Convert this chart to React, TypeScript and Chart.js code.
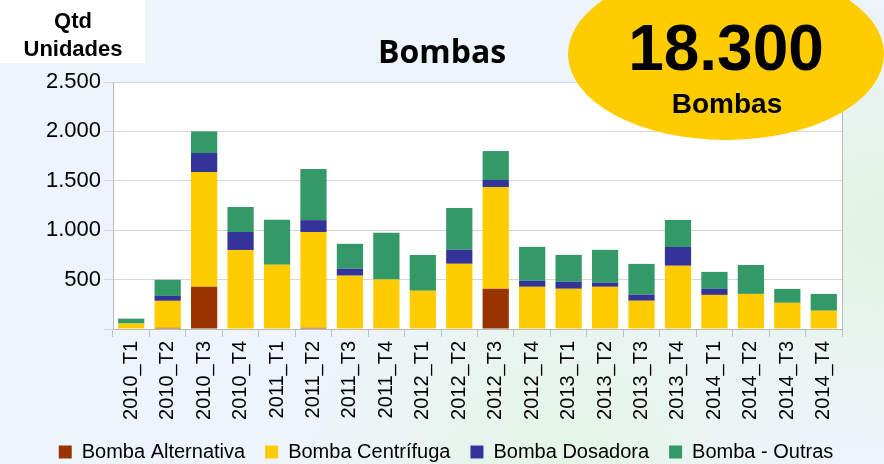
import React, { useEffect, useRef } from 'react';
import { Chart, registerables } from 'chart.js';
Chart.register(...registerables);

const categories = [
  '2010_T1', '2010_T2', '2010_T3', '2010_T4',
  '2011_T1', '2011_T2', '2011_T3', '2011_T4',
  '2012_T1', '2012_T2', '2012_T3', '2012_T4',
  '2013_T1', '2013_T2', '2013_T3', '2013_T4',
  '2014_T1', '2014_T2', '2014_T3', '2014_T4',
];
const alternativa = [0, 12, 428, 0, 0, 12, 0, 0, 0, 0, 407, 0, 0, 0, 0, 0, 0, 0, 0, 0];
const centrifuga = [55, 273, 1161, 800, 650, 970, 540, 500, 388, 660, 1030, 427, 407, 427, 286, 640, 345, 355, 265, 185];
const dosadora = [0, 50, 192, 182, 0, 120, 70, 0, 0, 142, 71, 61, 71, 41, 61, 190, 61, 0, 0, 0];
const outras = [50, 163, 219, 253, 455, 517, 252, 475, 362, 423, 293, 343, 272, 333, 312, 273, 172, 293, 141, 170];
const seriesNames = ['Bomba Alternativa', 'Bomba Centrífuga', 'Bomba Dosadora', 'Bomba - Outras'];
const yMax = 2500;
const yStep = 500;
const chartTitle = 'Bombas';
const axisTitle = ['Qtd', 'Unidades'];
const badgeNumber = '18.300';
const badgeLabel = 'Bombas';

const FONT = "'Liberation Sans', Arial, sans-serif";

const fmt = (v: number) => String(v).replace(/\B(?=(\d{3})+(?!\d))/g, '.');

const decorPlugin = {
  id: 'decor',
  afterLayout(chart: any) {
    const lg = chart.legend;
    if (lg) {
      lg.left += 25;
      lg.right += 25;
    }
  },
  beforeDraw(chart: any) {
    const { ctx, chartArea: a, width, height } = chart;
    ctx.save();
    ctx.fillStyle = '#eef4fb';
    ctx.fillRect(0, 0, width, height);
    const g1 = ctx.createRadialGradient(884, 230, 10, 884, 230, 230);
    g1.addColorStop(0, 'rgba(226,244,228,1)');
    g1.addColorStop(1, 'rgba(226,244,228,0)');
    ctx.fillStyle = g1;
    ctx.fillRect(0, 0, width, height);
    const g2 = ctx.createRadialGradient(560, 470, 10, 560, 470, 260);
    g2.addColorStop(0, 'rgba(228,245,230,1)');
    g2.addColorStop(1, 'rgba(228,245,230,0)');
    ctx.fillStyle = g2;
    ctx.fillRect(0, 0, width, height);
    ctx.fillStyle = '#ffffff';
    ctx.fillRect(a.left, a.top, a.right - a.left, a.bottom - a.top);
    ctx.restore();
  },
  afterDraw(chart: any) {
    const { ctx, chartArea: a } = chart;
    ctx.save();
    ctx.strokeStyle = '#b8b8b8';
    ctx.lineWidth = 1;
    ctx.beginPath();
    ctx.moveTo(Math.round(a.right) + 0.5, a.top);
    ctx.lineTo(Math.round(a.right) + 0.5, a.bottom);
    ctx.stroke();

    // axis title box
    ctx.fillStyle = '#ffffff';
    ctx.fillRect(0, 0, 145, 63);
    ctx.fillStyle = '#000';
    ctx.textAlign = 'center';
    ctx.textBaseline = 'alphabetic';
    ctx.font = `bold 22px ${FONT}`;
    ctx.fillText(axisTitle[0], 73, 28);
    ctx.fillText(axisTitle[1], 73, 56);

    // chart title
    ctx.font = `bold 32px 'Open Sans', ${FONT}`;
    ctx.fillText(chartTitle, 442, 63);

    // badge
    ctx.fillStyle = '#ffcc00';
    ctx.beginPath();
    ctx.ellipse(726, 54, 158, 86, 0, 0, Math.PI * 2);
    ctx.fill();
    ctx.fillStyle = '#000';
    ctx.font = `bold 64px ${FONT}`;
    ctx.fillText(badgeNumber, 726, 70);
    ctx.font = `bold 28px ${FONT}`;
    ctx.fillText(badgeLabel, 727, 113);
    ctx.restore();
  },
};

export default function App() {
  const ref = useRef<HTMLCanvasElement>(null);
  useEffect(() => {
    document.body.style.margin = '0';
    const colors = ['#993300', '#ffcc00', '#333399', '#339966'];
    const values = [alternativa, centrifuga, dosadora, outras];
    const chart = new Chart(ref.current as HTMLCanvasElement, {
      type: 'bar',
      data: {
        labels: categories,
        datasets: seriesNames.map((name, i) => ({
          label: name,
          data: values[i],
          backgroundColor: colors[i],
          borderWidth: 0,
        })),
      },
      options: {
        responsive: false,
        animation: false,
        devicePixelRatio: 1,
        color: '#000',
        layout: { padding: { top: 82, left: 0, right: 42, bottom: -8 } },
        plugins: {
          title: { display: false },
          tooltip: { enabled: false },
          legend: {
            position: 'bottom',
            labels: {
              boxWidth: 13,
              boxHeight: 13,
              padding: 20,
              color: '#000',
              font: { family: FONT, size: 20 },
            },
          },
        },
        scales: {
          x: {
            stacked: true,
            afterFit: (s: any) => { s.height = 93; },
            grid: { display: true, drawOnChartArea: false, drawTicks: true, tickLength: 8, offset: true, color: '#c0c0c0' },
            border: { color: '#b8b8b8' },
            ticks: {
              minRotation: 90,
              maxRotation: 90,
              padding: 4,
              color: '#000',
              font: { family: FONT, size: 20 },
            },
          },
          y: {
            stacked: true,
            min: 0,
            max: yMax,
            afterFit: (s: any) => { s.width = 113; },
            grid: { color: '#d6d6d6', tickLength: 9 },
            border: { color: '#b8b8b8' },
            ticks: {
              stepSize: yStep,
              padding: 3,
              color: '#000',
              font: { family: FONT, size: 22 },
              callback: (v: any) => (v === 0 ? '' : fmt(Number(v))),
            },
          },
        },
      },
      plugins: [decorPlugin],
    });
    return () => chart.destroy();
  }, []);
  return (
    <div style={{ width: 884, height: 464 }}>
      <canvas ref={ref} width={884} height={464} style={{ display: 'block' }} />
    </div>
  );
}
